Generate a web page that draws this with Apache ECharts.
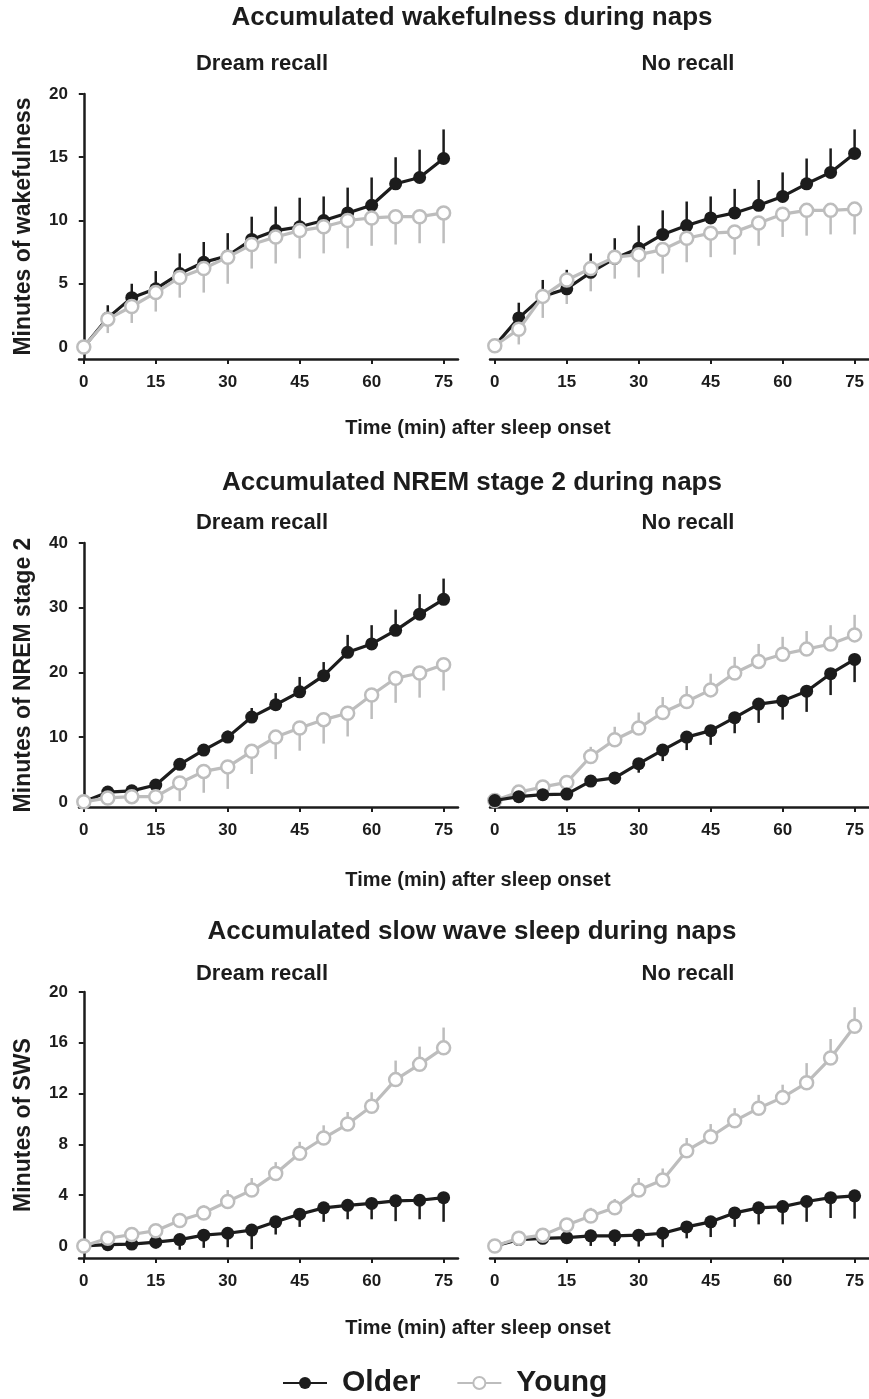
<!DOCTYPE html>
<html>
<head>
<meta charset="utf-8">
<script src="https://cdn.jsdelivr.net/npm/echarts@6/dist/echarts.min.js"></script>
<style>
  html, body { margin: 0; padding: 0; background: #fff; }
  #chart { width: 869px; height: 1399px; }
</style>
</head>
<body>
<div id="chart"></div>
<script>
// time points (min after sleep onset)
const minutes = [0, 5, 10, 15, 20, 25, 30, 35, 40, 45, 50, 55, 60, 65, 70, 75]

// accumulated wakefulness
const wakeDreamOlder = [0, 2.3, 3.9, 4.6, 5.8, 6.7, 7.2, 8.5, 9.2, 9.5, 10.0, 10.6, 11.2, 12.9, 13.4, 14.9]
const wakeDreamOlderErr = [0, 1.0, 1.1, 1.4, 1.6, 1.6, 1.8, 1.8, 1.9, 2.3, 1.9, 2.0, 2.2, 2.1, 2.2, 2.3]
const wakeDreamYoung = [0, 2.2, 3.2, 4.3, 5.5, 6.2, 7.1, 8.1, 8.7, 9.2, 9.5, 10.0, 10.2, 10.3, 10.3, 10.6]
const wakeDreamYoungErr = [0, 1.1, 1.3, 1.5, 1.6, 1.9, 2.1, 1.9, 2.1, 2.2, 2.1, 2.2, 2.2, 2.2, 2.1, 2.4]
const wakeNoOlder = [0.1, 2.3, 4.0, 4.6, 5.9, 7.0, 7.8, 8.9, 9.6, 10.2, 10.6, 11.2, 11.9, 12.9, 13.8, 15.3]
const wakeNoOlderErr = [0, 1.2, 1.3, 1.5, 1.5, 1.6, 1.8, 1.9, 1.9, 1.7, 1.9, 2.0, 1.9, 2.0, 1.9, 1.9]
const wakeNoYoung = [0.1, 1.4, 4.0, 5.3, 6.2, 7.1, 7.3, 7.7, 8.6, 9.0, 9.1, 9.8, 10.5, 10.8, 10.8, 10.9]
const wakeNoYoungErr = [0, 1.2, 1.7, 1.9, 1.8, 1.7, 1.8, 1.9, 1.9, 1.9, 1.8, 1.8, 1.8, 2.0, 1.9, 2.0]

// accumulated NREM stage 2
const n2DreamOlder = [0, 1.5, 1.7, 2.6, 5.8, 8.0, 10.0, 13.1, 15.0, 17.0, 19.5, 23.1, 24.4, 26.5, 29.0, 31.3]
const n2DreamOlderErr = [0, 0.3, 0.4, 0.6, 0.8, 0.9, 1.0, 1.4, 1.8, 2.3, 2.1, 2.7, 2.9, 3.2, 3.1, 3.2]
const n2DreamYoung = [0, 0.6, 0.8, 0.8, 2.9, 4.7, 5.4, 7.8, 10.0, 11.4, 12.7, 13.7, 16.5, 19.1, 19.9, 21.2]
const n2DreamYoungErr = [0, 0.3, 0.4, 0.5, 2.8, 3.3, 3.4, 3.5, 3.4, 3.5, 3.7, 3.6, 3.7, 3.8, 3.8, 4.0]
const n2NoOlder = [0.2, 0.8, 1.1, 1.2, 3.2, 3.7, 5.9, 8.0, 10.0, 11.0, 13.0, 15.1, 15.6, 17.1, 19.8, 22.0]
const n2NoOlderErr = [0, 0.3, 0.4, 0.5, 0.9, 1.0, 1.4, 1.7, 2.0, 2.2, 2.4, 2.9, 2.9, 3.2, 3.3, 3.5]
const n2NoYoung = [0.2, 1.5, 2.3, 3.0, 7.0, 9.6, 11.4, 13.8, 15.5, 17.3, 19.9, 21.7, 22.8, 23.6, 24.4, 25.8]
const n2NoYoungErr = [0, 0.4, 0.5, 0.6, 1.5, 2.0, 2.4, 2.4, 2.4, 2.5, 2.5, 2.7, 2.7, 2.8, 2.9, 3.1]

// accumulated slow wave sleep
const swsDreamOlder = [0, 0.1, 0.15, 0.3, 0.5, 0.85, 1.0, 1.25, 1.9, 2.5, 3.0, 3.2, 3.35, 3.55, 3.6, 3.8]
const swsDreamOlderErr = [0, 0.3, 0.4, 0.5, 0.8, 1.0, 1.1, 1.5, 1.0, 1.0, 1.1, 1.1, 1.25, 1.6, 1.5, 1.9]
const swsDreamYoung = [0, 0.6, 0.9, 1.2, 2.0, 2.6, 3.5, 4.4, 5.7, 7.3, 8.5, 9.6, 11.0, 13.1, 14.3, 15.6]
const swsDreamYoungErr = [0, 0.2, 0.3, 0.4, 0.5, 0.6, 0.9, 0.95, 0.9, 0.9, 1.0, 0.95, 1.1, 1.5, 1.4, 1.6]
const swsNoOlder = [0, 0.5, 0.6, 0.65, 0.8, 0.8, 0.85, 1.0, 1.5, 1.9, 2.6, 3.0, 3.1, 3.5, 3.8, 3.95]
const swsNoOlderErr = [0, 0.2, 0.3, 0.3, 0.8, 0.8, 0.9, 1.1, 0.9, 1.2, 1.1, 1.3, 1.4, 1.6, 1.6, 1.8]
const swsNoYoung = [0, 0.6, 0.85, 1.65, 2.35, 3.0, 4.4, 5.2, 7.5, 8.6, 9.85, 10.85, 11.7, 12.85, 14.8, 17.3]
const swsNoYoungErr = [0, 0.3, 0.3, 0.4, 0.65, 0.7, 0.95, 0.9, 1.0, 1.0, 1.0, 1.05, 1.0, 1.55, 1.5, 1.5]

// axis ticks
const xTicks = [0, 15, 30, 45, 60, 75]
const wakeTicks = [0, 5, 10, 15, 20]
const n2Ticks = [0, 10, 20, 30, 40]
const swsTicks = [0, 4, 8, 12, 16, 20]

const rowTitles = ['Accumulated wakefulness during naps', 'Accumulated NREM stage 2 during naps', 'Accumulated slow wave sleep during naps']
const yNames = ['Minutes of wakefulness', 'Minutes of NREM stage 2', 'Minutes of SWS']
const xName = 'Time (min) after sleep onset'

const FONT = '"Liberation Sans", Arial, sans-serif'
const INK = '#1c1c1c'
const GREY = '#bdbdbd'

// one entry per panel: grid place, data, and which group sits on top (its bars go up)
const panels = [
    { row: 0, col: 0, upper: 'older', older: wakeDreamOlder, olderErr: wakeDreamOlderErr, young: wakeDreamYoung, youngErr: wakeDreamYoungErr },
    { row: 0, col: 1, upper: 'older', older: wakeNoOlder, olderErr: wakeNoOlderErr, young: wakeNoYoung, youngErr: wakeNoYoungErr },
    { row: 1, col: 0, upper: 'older', older: n2DreamOlder, olderErr: n2DreamOlderErr, young: n2DreamYoung, youngErr: n2DreamYoungErr },
    { row: 1, col: 1, upper: 'young', older: n2NoOlder, olderErr: n2NoOlderErr, young: n2NoYoung, youngErr: n2NoYoungErr },
    { row: 2, col: 0, upper: 'young', older: swsDreamOlder, olderErr: swsDreamOlderErr, young: swsDreamYoung, youngErr: swsDreamYoungErr },
    { row: 2, col: 1, upper: 'young', older: swsNoOlder, olderErr: swsNoOlderErr, young: swsNoYoung, youngErr: swsNoYoungErr }
]

const rowTop = [94, 543, 992]
const rowHeight = [265, 264, 266]
const rowMin = [-0.95, -0.8, -0.95]
const rowMax = [20, 40, 20]
const rowTicks = [wakeTicks, n2Ticks, swsTicks]
const colLeft = [79, 490]

const grids = []
const xAxes = []
const yAxes = []
const series = []

panels.forEach((p, i) => {
    grids.push({ left: colLeft[p.col], top: rowTop[p.row], width: 379, height: rowHeight[p.row] })
    xAxes.push({
        type: 'value', gridIndex: i, min: -1, max: 78,
        axisLine: { onZero: false, lineStyle: { color: INK, width: 2.5 } },
        axisTick: { customValues: xTicks, length: 5, lineStyle: { color: INK, width: 2 } },
        axisLabel: { customValues: xTicks, margin: 15, color: INK, fontFamily: FONT, fontWeight: 'bold', fontSize: 17 },
        splitLine: { show: false }
    })
    const left = p.col === 0
    yAxes.push({
        type: 'value', gridIndex: i, min: rowMin[p.row], max: rowMax[p.row],
        name: left ? yNames[p.row] : '',
        nameLocation: 'middle', nameRotate: 90, nameGap: 44,
        nameTextStyle: { color: INK, fontFamily: FONT, fontWeight: 'bold', fontSize: 23 },
        axisLine: { show: left, lineStyle: { color: INK, width: 2.5 } },
        axisTick: { show: left, customValues: rowTicks[p.row], length: 5, lineStyle: { color: INK, width: 2 } },
        axisLabel: { show: left, customValues: rowTicks[p.row], margin: 11, color: INK, fontFamily: FONT, fontWeight: 'bold', fontSize: 17 },
        splitLine: { show: false }
    })

    // error bars point away from the other group
    const errBar = (vals, errs, sign, color, z) => ({
        type: 'custom', name: 'err', xAxisIndex: i, yAxisIndex: i, z: z, silent: true,
        data: minutes.map((m, k) => [m, vals[k], vals[k] + sign * errs[k]]),
        renderItem: (params, api) => {
            const a = api.coord([api.value(0), api.value(1)])
            const b = api.coord([api.value(0), api.value(2)])
            return {
                type: 'line',
                shape: { x1: a[0], y1: a[1], x2: b[0], y2: b[1] },
                style: { stroke: color, lineWidth: 2.5 }
            }
        }
    })
    const olderSign = p.upper === 'older' ? 1 : -1
    series.push(errBar(p.young, p.youngErr, -olderSign, GREY, 2))
    series.push(errBar(p.older, p.olderErr, olderSign, INK, 3))

    series.push({
        type: 'line', name: 'Older', xAxisIndex: i, yAxisIndex: i, z: 4,
        data: minutes.map((m, k) => [m, p.older[k]]),
        symbol: 'circle', symbolSize: 13,
        itemStyle: { color: INK },
        lineStyle: { color: INK, width: 3.2 }
    })
    series.push({
        type: 'line', name: 'Young', xAxisIndex: i, yAxisIndex: i, z: p.row === 1 && p.col === 1 ? 3 : 5,
        data: minutes.map((m, k) => [m, p.young[k]]),
        symbol: 'circle', symbolSize: 13,
        itemStyle: { color: '#fff', borderColor: GREY, borderWidth: 2.5 },
        lineStyle: { color: GREY, width: 3.2 }
    })
})

// headings and axis captions as plain text
const texts = []
const textStyle = (t, x, y, size) => ({
    type: 'text', x: x, y: y,
    style: { text: t, x: 0, y: 0, fill: INK, font: 'bold ' + size + 'px ' + FONT, align: 'center', verticalAlign: 'middle' }
})
const rowTitleY = [18, 483, 932]
const subY = [64, 523, 974]
const xNameY = [428, 880, 1328]
for (let r = 0; r < 3; r++) {
    texts.push(textStyle(rowTitles[r], 472, rowTitleY[r], 26))
    texts.push(textStyle('Dream recall', 262, subY[r], 22))
    texts.push(textStyle('No recall', 688, subY[r], 22))
    texts.push(textStyle(xName, 478, xNameY[r], 20))
}

const chart = echarts.init(document.getElementById('chart'))
chart.setOption({
    animation: false,
    backgroundColor: '#fff',
    legend: {
        data: ['Older', 'Young'],
        top: 1363, left: 277,
        itemWidth: 44, itemHeight: 15, itemGap: 36,
        textStyle: { color: INK, fontFamily: FONT, fontWeight: 'bold', fontSize: 30, padding: [0, 0, 0, 10] }
    },
    grid: grids,
    xAxis: xAxes,
    yAxis: yAxes,
    graphic: texts,
    series: series
})
</script>
</body>
</html>
